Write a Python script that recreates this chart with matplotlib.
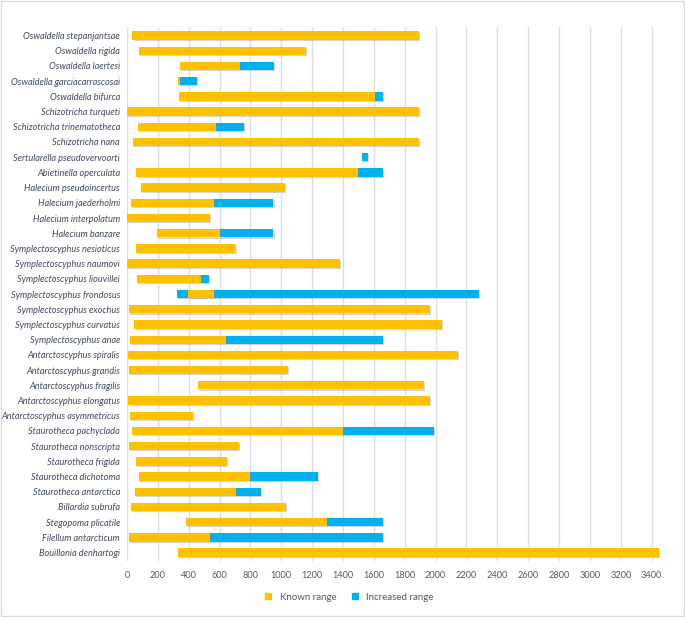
import matplotlib
matplotlib.use("Agg")
import matplotlib.pyplot as plt
import matplotlib.patheffects as pe
from matplotlib.patches import Rectangle
from matplotlib.lines import Line2D

species = [
    "Oswaldella stepanjantsae", "Oswaldella rigida", "Oswaldella laertesi",
    "Oswaldella garciacarrascosai", "Oswaldella bifurca", "Schizotricha turqueti",
    "Schizotricha trinematotheca", "Schizotricha nana", "Sertularella pseudovervoorti",
    "Abietinella operculata", "Halecium pseudoincertus", "Halecium jaederholmi",
    "Halecium interpolatum", "Halecium banzare", "Symplectoscyphus nesioticus",
    "Symplectoscyphus naumovi", "Symplectoscyphus liouvillei", "Symplectoscyphus frondosus",
    "Symplectoscyphus exochus", "Symplectoscyphus curvatus", "Symplectoscyphus anae",
    "Antarctoscyphus spiralis", "Antarctoscyphus grandis", "Antarctoscyphus fragilis",
    "Antarctoscyphus elongatus", "Antarctoscyphus asymmetricus", "Staurotheca pachyclada",
    "Staurotheca nonscripta", "Staurotheca frigida", "Staurotheca dichotoma",
    "Staurotheca antarctica", "Billardia subrufa", "Stegopoma plicatile",
    "Filellum antarcticum", "Bouillonia denhartogi",
]

# Known depth range (m)
known_start = [35, 78, 342, 329, 338, 0, 69, 39, None, 61, 93, 24, 0, 197, 56, 0, 63, 398,
               11, 48, 18, 5, 11, 458, 9, 18, 35, 11, 56, 78, 52, 24, 385, 11, 329]
known_end = [1892, 1157, 735, 342, 1609, 1892, 577, 1892, None, 1496, 1021, 562, 536, 601, 703,
             1379, 482, 562, 1961, 2043, 640, 2143, 1042, 1922, 1961, 428, 1401, 726, 647, 798,
             705, 1031, 1295, 538, 3450]
# Increased depth range (m)
inc_start = [None, None, 735, 342, 1609, None, 577, None, 1520, 1496, None, 562, None, 601, None,
             None, 482, 322, None, None, 640, None, None, None, None, None, 1401, None, None, 798,
             705, None, 1295, 538, None]
inc_end = [None, None, 950, 454, 1658, None, 759, None, 1563, 1658, None, 949, None, 949, None,
           None, 534, 2283, None, None, 1658, None, None, None, None, None, 1991, None, None, 1237,
           869, None, 1658, 1658, None]

xticks = list(range(0, 3401, 200))

YELLOW = "#FFC000"
BLUE = "#00B0F0"

plt.rcParams['font.family'] = ['Lato', 'DejaVu Sans']

fig = plt.figure(figsize=(6.85, 6.17), dpi=100)
ax = fig.add_axes([0.1854, 0.0908, 0.7793, 0.8652])

shadow = [pe.SimplePatchShadow(offset=(0.8, -0.8), shadow_rgbFace="#888888", alpha=0.35), pe.Normal()]
h = 0.55
for i in range(len(species)):
    if inc_start[i] is not None:
        ax.barh(i, inc_end[i] - inc_start[i], left=inc_start[i], height=h, color=BLUE,
                zorder=3, path_effects=shadow)
    if known_start[i] is not None:
        ax.barh(i, known_end[i] - known_start[i], left=known_start[i], height=h, color=YELLOW,
                zorder=4, path_effects=shadow)

ax.set_ylim(len(species) - 0.45, -0.55)
ax.set_xlim(0, 3460)
ax.set_yticks(range(len(species)))
ax.set_yticklabels(species, fontsize=6.6, style='italic', color="#3E4A5E")
ax.set_xticks(xticks)
ax.set_xticklabels([str(t) for t in xticks], fontsize=6.6, color="#595959")
ax.tick_params(length=0, pad=5)
ax.tick_params(axis='x', pad=7)
for s in ax.spines.values():
    s.set_visible(False)
ax.grid(axis='x', color="#D9DEE8", linewidth=1.0, zorder=0)
ax.set_axisbelow(True)

handles = [Line2D([], [], marker='s', linestyle='none', markersize=5, color=YELLOW),
           Line2D([], [], marker='s', linestyle='none', markersize=5, color=BLUE)]
fig.legend(handles, ["Known range", "Increased range"], loc='center', bbox_to_anchor=(0.505, 0.032),
           ncol=2, frameon=False, fontsize=7, handletextpad=0.2, columnspacing=0.9,
           labelcolor="#595959")

fig.patches.append(Rectangle((0.001, 0.001), 0.998, 0.998, transform=fig.transFigure,
                             fill=False, edgecolor="#D9D9D9", linewidth=1))

fig.savefig("out.png", dpi=100)
